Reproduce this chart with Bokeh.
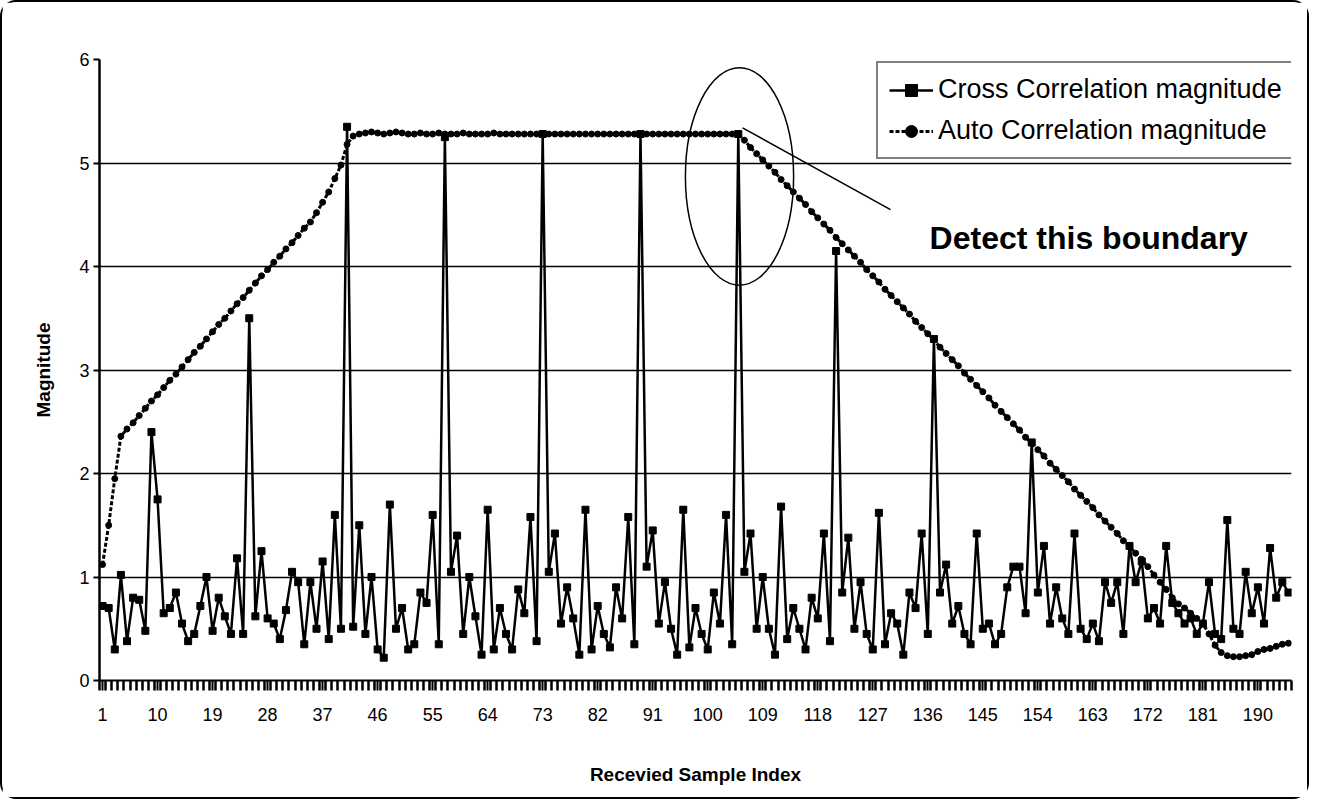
from bokeh.plotting import figure
from bokeh.models import FixedTicker, Range1d, Legend, LegendItem, Label
from bokeh.embed import file_html
from bokeh.resources import INLINE

# ---------------- data ----------------
sample_index = list(range(1, 196))

cross_corr = [
    0.72, 0.70, 0.30, 1.02, 0.38, 0.80, 0.78, 0.48, 2.40, 1.75,
    0.65, 0.70, 0.85, 0.55, 0.38, 0.45, 0.72, 1.00, 0.48, 0.80,
    0.62, 0.45, 1.18, 0.45, 3.50, 0.62, 1.25, 0.60, 0.55, 0.40,
    0.68, 1.05, 0.95, 0.35, 0.95, 0.50, 1.15, 0.40, 1.60, 0.50,
    5.35, 0.52, 1.50, 0.45, 1.00, 0.30, 0.22, 1.70, 0.50, 0.70,
    0.30, 0.35, 0.85, 0.75, 1.60, 0.35, 5.25, 1.05, 1.40, 0.45,
    1.00, 0.62, 0.25, 1.65, 0.30, 0.70, 0.45, 0.30, 0.88, 0.65,
    1.58, 0.38, 5.28, 1.05, 1.42, 0.55, 0.90, 0.60, 0.25, 1.65,
    0.30, 0.72, 0.45, 0.32, 0.90, 0.60, 1.58, 0.35, 5.28, 1.10,
    1.45, 0.55, 0.95, 0.50, 0.25, 1.65, 0.32, 0.70, 0.45, 0.30,
    0.85, 0.55, 1.60, 0.35, 5.28, 1.05, 1.42, 0.50, 1.00, 0.50,
    0.25, 1.68, 0.40, 0.70, 0.50, 0.30, 0.80, 0.60, 1.42, 0.38,
    4.15, 0.85, 1.38, 0.50, 0.95, 0.45, 0.30, 1.62, 0.35, 0.65,
    0.55, 0.25, 0.85, 0.70, 1.42, 0.45, 3.30, 0.85, 1.12, 0.55,
    0.72, 0.45, 0.35, 1.42, 0.50, 0.55, 0.35, 0.45, 0.90, 1.10,
    1.10, 0.65, 2.30, 0.85, 1.30, 0.55, 0.90, 0.60, 0.45, 1.42,
    0.50, 0.40, 0.55, 0.38, 0.95, 0.75, 0.95, 0.45, 1.30, 0.95,
    1.15, 0.60, 0.70, 0.55, 1.30, 0.75, 0.65, 0.55, 0.60, 0.45,
    0.55, 0.95, 0.45, 0.40, 1.55, 0.50, 0.45, 1.05, 0.65, 0.90,
    0.55, 1.28, 0.80, 0.95, 0.85,
]

auto_corr = [
    1.12, 1.50, 1.95, 2.36, 2.43, 2.49, 2.56, 2.63, 2.70, 2.76,
    2.83, 2.90, 2.96, 3.03, 3.10, 3.17, 3.23, 3.30, 3.37, 3.44,
    3.50, 3.57, 3.64, 3.70, 3.77, 3.84, 3.91, 3.97, 4.04, 4.10,
    4.17, 4.23, 4.30, 4.37, 4.43, 4.52, 4.62, 4.72, 4.85, 4.98,
    5.18, 5.26, 5.28, 5.29, 5.30, 5.29, 5.28, 5.29, 5.30, 5.29,
    5.28, 5.28, 5.29, 5.28, 5.28, 5.29, 5.28, 5.28, 5.28, 5.29,
    5.28, 5.28, 5.28, 5.28, 5.29, 5.28, 5.28, 5.28, 5.28, 5.28,
    5.28, 5.28, 5.28, 5.28, 5.28, 5.28, 5.28, 5.28, 5.28, 5.28,
    5.28, 5.28, 5.28, 5.28, 5.28, 5.28, 5.28, 5.28, 5.28, 5.28,
    5.28, 5.28, 5.28, 5.28, 5.28, 5.28, 5.28, 5.28, 5.28, 5.28,
    5.28, 5.28, 5.28, 5.28, 5.28, 5.22, 5.15, 5.09, 5.03, 4.97,
    4.91, 4.84, 4.78, 4.72, 4.66, 4.60, 4.53, 4.47, 4.41, 4.35,
    4.28, 4.22, 4.16, 4.10, 4.04, 3.97, 3.91, 3.85, 3.78, 3.72,
    3.66, 3.60, 3.54, 3.47, 3.41, 3.35, 3.29, 3.22, 3.16, 3.10,
    3.04, 2.97, 2.91, 2.85, 2.79, 2.73, 2.66, 2.60, 2.54, 2.48,
    2.42, 2.35, 2.29, 2.23, 2.17, 2.10, 2.04, 1.98, 1.92, 1.85,
    1.79, 1.73, 1.67, 1.60, 1.54, 1.48, 1.42, 1.35, 1.29, 1.23,
    1.17, 1.10, 1.02, 0.95, 0.88, 0.80, 0.74, 0.70, 0.65, 0.60,
    0.55, 0.45, 0.34, 0.27, 0.24, 0.23, 0.23, 0.24, 0.25, 0.28,
    0.30, 0.31, 0.33, 0.35, 0.36,
]

x_tick_labels = [1, 10, 19, 28, 37, 46, 55, 64, 73, 82, 91, 100, 109,
                 118, 127, 136, 145, 154, 163, 172, 181, 190]
y_ticks = [0, 1, 2, 3, 4, 5, 6]

FONT = "Liberation Sans"

p = figure(width=1309, height=799, output_backend="svg", toolbar_location=None,
           x_range=Range1d(0.5, 195.5), y_range=Range1d(0, 6),
           min_border_left=97, min_border_right=20, min_border_top=57,
           min_border_bottom=121, background_fill_color="white",
           border_fill_color="white",
           styles={"border": "2px solid black", "border-radius": "16px"})
p.outline_line_color = None
p.xgrid.visible = False
p.ygrid.grid_line_color = "black"
p.ygrid.grid_line_width = 1.5
p.ygrid.grid_line_alpha = 1.0

# y axis
p.yaxis.ticker = FixedTicker(ticks=y_ticks)
p.yaxis.axis_line_width = 2.5
p.yaxis.axis_line_color = "black"
p.yaxis.major_tick_out = 6
p.yaxis.major_tick_in = 0
p.yaxis.major_tick_line_width = 2
p.yaxis.minor_tick_line_color = None
p.yaxis.major_label_text_font = FONT
p.yaxis.major_label_text_font_size = "18px"
p.yaxis.major_label_text_color = "black"
p.yaxis.major_label_standoff = 4
p.yaxis.axis_label = "Magnitude"
p.yaxis.axis_label_text_font = FONT
p.yaxis.axis_label_text_font_style = "bold"
p.yaxis.axis_label_text_font_size = "19px"
p.yaxis.axis_label_text_color = "black"
p.yaxis.axis_label_standoff = 22

# x axis
minor_pos = [i + 0.5 for i in range(0, 196)]
p.xaxis.ticker = FixedTicker(ticks=x_tick_labels, minor_ticks=minor_pos)
p.xaxis.axis_line_width = 2
p.xaxis.axis_line_color = "black"
p.xaxis.major_tick_out = 10
p.xaxis.major_tick_in = 0
p.xaxis.major_tick_line_width = 2
p.xaxis.minor_tick_out = 10
p.xaxis.minor_tick_in = 0
p.xaxis.minor_tick_line_width = 2.5
p.xaxis.minor_tick_line_color = "black"
p.xaxis.major_label_text_font = FONT
p.xaxis.major_label_text_font_size = "18px"
p.xaxis.major_label_text_color = "black"
p.xaxis.major_label_standoff = 17
p.xaxis.axis_label = "Recevied Sample Index"
p.xaxis.axis_label_text_font = FONT
p.xaxis.axis_label_text_font_style = "bold"
p.xaxis.axis_label_text_font_size = "19px"
p.xaxis.axis_label_text_color = "black"
p.xaxis.axis_label_standoff = 40

# series
c_line = p.line(sample_index, cross_corr, line_color="black", line_width=2.5)
c_mark = p.scatter(sample_index, cross_corr, marker="square", size=7,
                   fill_color="black", line_color="black")
a_line = p.line(sample_index, auto_corr, line_color="black", line_width=3,
                line_dash="4 2")
a_mark = p.scatter(sample_index, auto_corr, marker="circle", size=6,
                   fill_color="black", line_color="black")

legend = Legend(items=[
    LegendItem(label="Cross Correlation magnitude", renderers=[c_line, c_mark]),
    LegendItem(label="Auto Correlation magnitude", renderers=[a_line, a_mark]),
], location=(777, 521))
legend.label_text_font = FONT
legend.label_text_font_size = "27px"
legend.label_text_color = "black"
legend.glyph_width = 44
legend.glyph_height = 30
legend.label_standoff = 5
legend.spacing = 10
legend.padding = 11
legend.margin = 0
legend.border_line_color = "black"
legend.border_line_width = 2
legend.background_fill_alpha = 1.0
p.add_layout(legend)

# annotation: ellipse, pointer line, text
p.ellipse(x=[105.2], y=[4.87], width=17.7, height=2.10, fill_color=None,
          line_color="black", line_width=1.5)
p.line([105.7, 129.9], [5.34, 4.55], line_color="black", line_width=1.5)
p.add_layout(Label(x=136.3, y=4.28, text="Detect this boundary",
                   text_font=FONT, text_font_style="bold",
                   text_font_size="32px", text_color="black",
                   text_baseline="alphabetic"))

open("out.html", "w").write(file_html(p, INLINE))
